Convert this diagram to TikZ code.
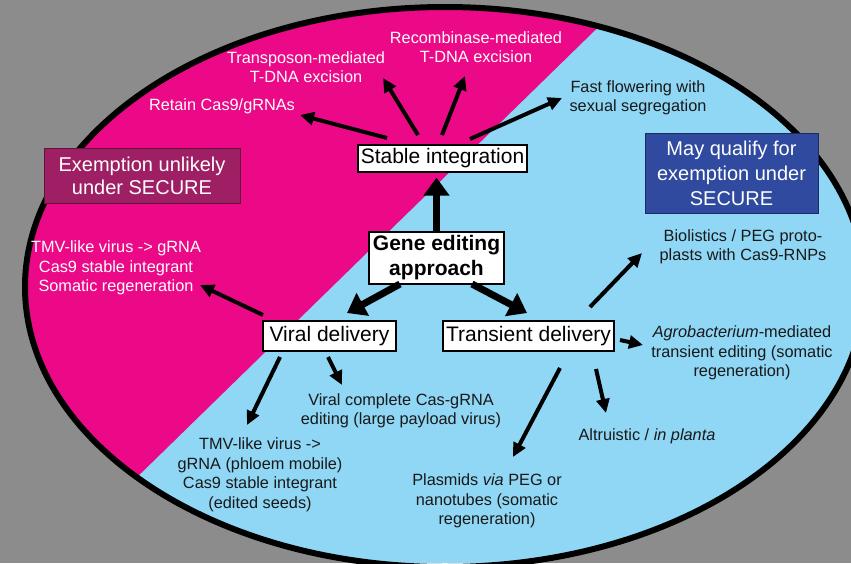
\documentclass[tikz,border=0pt]{standalone}
\usepackage{fontspec}
\setmainfont{Liberation Sans}
\usetikzlibrary{arrows.meta,calc}
\definecolor{hotpink}{RGB}{236,9,135}
\definecolor{skyblue}{RGB}{143,215,245}
\definecolor{plumbox}{RGB}{158,31,99}
\definecolor{bluebox}{RGB}{47,74,158}
\definecolor{bggrey}{RGB}{140,140,140}
\definecolor{ink}{RGB}{25,25,25}
\begin{document}
\begin{tikzpicture}[x=1pt, y=-1pt,
  lbl/.style={align=center, inner sep=0pt, font=\fontsize{16.3}{19.5}\selectfont},
  wlbl/.style={lbl, text=white},
  dlbl/.style={lbl, text=ink},
  box/.style={draw, fill=white, line width=1.2pt, minimum height=28pt, inner sep=0pt, font=\fontsize{21}{25}\selectfont},
  tag/.style={draw, line width=1pt, align=center, inner sep=0pt, text=white},
  arr/.style={line width=4pt, -{Triangle[length=14pt, width=13pt]}},
  bigarr/.style={line width=7pt, -{Triangle[length=18pt, width=25pt]}}]
\fill[bggrey] (0,0) rectangle (851,563);
\clip (0,0) rectangle (851,563);
% the two halves of the oval
\begin{scope}
\clip (445,287) ellipse [x radius=420, y radius=280];
\fill[skyblue] (0,0) rectangle (851,563);
\fill[hotpink] (0,0) -- (626,0) -- (49,563) -- (0,563) -- cycle;
\end{scope}
\draw[line width=6pt] (445,287) ellipse [x radius=420, y radius=280];

\node[tag, fill=plumbox, draw=plumbox!60!black, minimum width=196pt, minimum height=55pt,
  font=\fontsize{20}{23}\selectfont] (unlikely) at (142,175.5) {Exemption unlikely\\under SECURE};
\node[tag, fill=bluebox, draw=bluebox!60!black, minimum width=173pt, minimum height=80pt,
  font=\fontsize{20}{25}\selectfont] (qualify) at (731.5,173) {May qualify for\\exemption under\\SECURE};

% main boxes
\node[box, minimum width=135pt, minimum height=52pt, align=center,
  font=\bfseries\fontsize{21}{25}\selectfont] (gene) at (436.5,258) {Gene editing\\approach};
\node[box, minimum width=169pt, minimum height=27pt] (stable) at (442.5,158.5) {Stable integration};
\node[box, minimum width=133pt, minimum height=30pt] (viral) at (329.5,336) {Viral delivery};
\node[box, minimum width=171pt, minimum height=30pt] (transient) at (528.5,336) {Transient delivery};

% outcomes
\node[wlbl] (retain) at (222,106) {Retain Cas9/gRNAs};
\node[wlbl] (transposon) at (306,67) {Transposon-mediated\\T-DNA excision};
\node[wlbl] (recomb) at (476,47) {Recombinase-mediated\\T-DNA excision};
\node[dlbl] (fast) at (638,98) {Fast flowering with\\sexual segregation};
\node[wlbl] (tmvleft) at (116,268) {TMV-like virus -> gRNA\\Cas9 stable integrant\\Somatic regeneration};
\node[dlbl] (biol) at (743,247) {Biolistics / PEG proto-\\plasts with Cas9-RNPs};
\node[dlbl] (agro) at (742,353) {\textit{Agrobacterium}-mediated\\transient editing (somatic\\regeneration)};
\node[dlbl] (altru) at (647,436) {Altruistic / \textit{in planta}};
\node[dlbl] (plasm) at (487,501) {Plasmids \textit{via} PEG or\\nanotubes (somatic\\regeneration)};
\node[dlbl] (vcomplete) at (401,411) {Viral complete Cas-gRNA\\editing (large payload virus)};
\node[dlbl] (tmvseeds) at (260,475) {TMV-like virus ->\\gRNA (phloem mobile)\\Cas9 stable integrant\\(edited seeds)};

\draw[bigarr, shorten >=5pt] (gene.north) -- (gene.north |- stable.south);
\draw[bigarr] ($(gene)+(-36.5,26)$) -- ($(viral)+(17.5,-23)$);
\draw[bigarr] ($(gene)+(35.5,26)$) -- ($(transient)+(-1.5,-23)$);

\draw[arr] ($(stable)+(-55.5,-20.5)$) -- ($(retain)+(78,9)$);
\draw[arr] ($(stable)+(-24.5,-23.5)$) -- ($(transposon)+(77,11)$);
\draw[arr] ($(stable)+(-0.5,-23.5)$) -- ($(recomb)+(-11,29)$);
\draw[arr] ($(stable)+(27.5,-19.5)$) -- ($(fast)+(-76,0)$);

\draw[arr] ($(viral)+(-66.5,-21)$) -- ($(tmvleft)+(84,17)$);
\draw[arr] ($(viral)+(-49.5,21)$) -- ($(tmvseeds)+(-13,-50)$);
\draw[arr] ($(viral)+(-1.5,21)$) -- ($(vcomplete)+(-59,-26)$);

\draw[arr] ($(transient)+(61.5,-29)$) -- ($(biol)+(-101,6)$);
\draw[arr] ($(transient)+(91.5,4)$) -- ($(agro)+(-99,-8)$);
\draw[arr] ($(transient)+(31.5,32)$) -- ($(plasm)+(26,-44)$);
\draw[arr] ($(transient)+(67.5,33)$) -- ($(altru)+(-41,-23)$);
\end{tikzpicture}
\end{document}
